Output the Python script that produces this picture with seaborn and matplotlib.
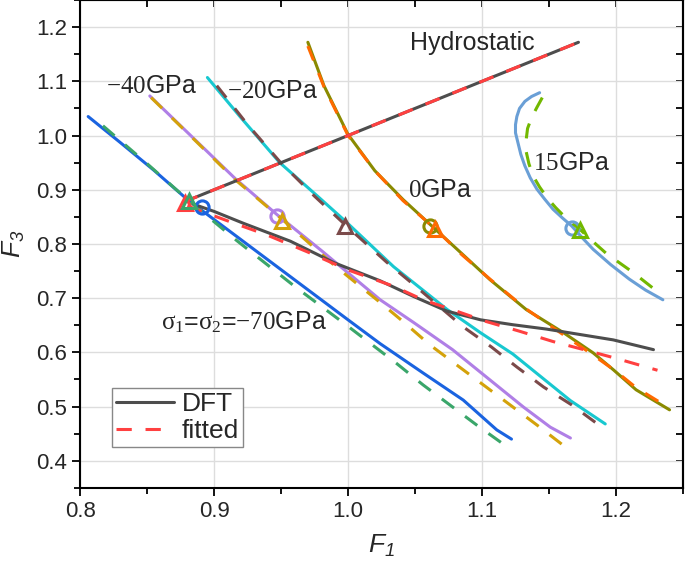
import matplotlib
matplotlib.use("Agg")
import matplotlib.pyplot as plt
from matplotlib.ticker import MultipleLocator
import seaborn as sns

# ---- values ----
# sigma1 = sigma2 = -70 GPa
f1_m70_dft = [0.806, 0.83, 0.855, 0.88, 0.92, 0.96, 1.0, 1.024, 1.056, 1.086, 1.111, 1.122]
f3_m70_dft = [1.035, 0.987, 0.936, 0.882, 0.808, 0.734, 0.660, 0.616, 0.562, 0.512, 0.457, 0.440]
f1_m70_fit = [0.817, 0.85, 0.881, 0.917, 0.96, 1.0, 1.036, 1.056, 1.076, 1.096, 1.122]
f3_m70_fit = [1.018, 0.948, 0.880, 0.806, 0.722, 0.648, 0.580, 0.540, 0.503, 0.466, 0.420]

# -40 GPa
f1_m40_dft = [0.852, 0.88, 0.916, 0.947, 0.98, 1.024, 1.049, 1.078, 1.106, 1.131, 1.151, 1.166]
f3_m40_dft = [1.073, 1.006, 0.920, 0.854, 0.788, 0.697, 0.655, 0.605, 0.549, 0.499, 0.462, 0.442]
f1_m40_fit = [0.853, 0.88, 0.916, 0.951, 0.99, 1.024, 1.041, 1.061, 1.081, 1.101, 1.121, 1.141, 1.163]
f3_m40_fit = [1.070, 1.005, 0.918, 0.845, 0.760, 0.692, 0.657, 0.614, 0.577, 0.540, 0.503, 0.466, 0.424]

# -20 GPa
f1_m20_dft = [0.895, 0.92, 0.949, 0.975, 0.998, 1.034, 1.074, 1.099, 1.123, 1.143, 1.166, 1.192]
f3_m20_dft = [1.107, 1.033, 0.950, 0.893, 0.842, 0.758, 0.679, 0.636, 0.597, 0.557, 0.511, 0.468]
f1_m20_fit = [0.902, 0.925, 0.949, 0.975, 0.998, 1.029, 1.049, 1.086, 1.107, 1.126, 1.146, 1.167, 1.19]
f3_m20_fit = [1.092, 1.020, 0.952, 0.888, 0.835, 0.766, 0.725, 0.647, 0.610, 0.573, 0.536, 0.503, 0.461]

# 0 GPa
f1_0_dft = [0.970, 0.982, 1.0, 1.02, 1.041, 1.063, 1.085, 1.106, 1.133, 1.161, 1.183, 1.198, 1.215, 1.240]
f3_0_dft = [1.172, 1.092, 1.002, 0.935, 0.882, 0.832, 0.782, 0.734, 0.679, 0.636, 0.599, 0.568, 0.531, 0.494]
f1_0_fit = [0.970, 0.982, 1.0, 1.02, 1.041, 1.065, 1.085, 1.106, 1.133, 1.161, 1.183, 1.2, 1.215, 1.238]
f3_0_fit = [1.165, 1.090, 1.000, 0.935, 0.880, 0.828, 0.780, 0.735, 0.680, 0.632, 0.595, 0.565, 0.535, 0.500]

# 15 GPa
f1_15_dft = [1.143, 1.137, 1.132, 1.128, 1.126, 1.125, 1.125, 1.127, 1.129, 1.132, 1.136, 1.141, 1.147,
             1.153, 1.160, 1.167, 1.175, 1.183, 1.196, 1.210, 1.222, 1.235]
f3_15_dft = [1.079, 1.072, 1.063, 1.050, 1.035, 1.020, 1.005, 0.985, 0.965, 0.944, 0.922, 0.901, 0.882,
             0.864, 0.848, 0.833, 0.811, 0.790, 0.762, 0.735, 0.715, 0.697]
f1_15_fit = [1.145, 1.141, 1.137, 1.134, 1.133, 1.133, 1.135, 1.138, 1.143, 1.149, 1.155, 1.163, 1.173,
             1.183, 1.193, 1.213, 1.233]
f3_15_fit = [1.070, 1.052, 1.033, 1.013, 0.993, 0.970, 0.948, 0.926, 0.905, 0.884, 0.867, 0.847, 0.827,
             0.804, 0.782, 0.747, 0.708]

# hydrostatic
f1_hyd = [0.877, 1.0, 1.172]
f3_hyd = [0.877, 1.0, 1.172]

# path starting at the hydrostatic point
f1_path_dft = [0.885, 0.9, 0.922, 0.957, 0.99, 1.024, 1.049, 1.074, 1.099, 1.123, 1.148, 1.173, 1.198, 1.228]
f3_path_dft = [0.873, 0.860, 0.838, 0.805, 0.765, 0.732, 0.703, 0.676, 0.660, 0.651, 0.643, 0.633, 0.623, 0.605]
f1_path_fit = [0.88, 0.914, 0.939, 0.97, 1.0, 1.034, 1.056, 1.081, 1.103, 1.128, 1.153, 1.176, 1.2, 1.231]
f3_path_fit = [0.870, 0.839, 0.817, 0.785, 0.752, 0.722, 0.697, 0.676, 0.657, 0.639, 0.620, 0.605, 0.589, 0.567]

# open markers (x, y)
circle_pts = [(0.891, 0.869), (0.947, 0.852), (1.061, 0.834), (1.167, 0.830)]
circle_cols = ["#1a63e0", "#b07fe6", "#8a8a00", "#6a9fd6"]
tri_pts = [(0.878, 0.876), (0.881, 0.880), (0.951, 0.843), (0.998, 0.833), (1.065, 0.828), (1.173, 0.825)]
tri_cols = ["#ff4040", "#3aa66a", "#d4a20a", "#7b4a4a", "#ff6a00", "#72b800"]

sns.set_style("white")
plt.rcParams['font.family'] = ['Liberation Sans', 'DejaVu Sans']
plt.rcParams['mathtext.fontset'] = 'custom'
plt.rcParams['mathtext.rm'] = 'Liberation Serif'
plt.rcParams['mathtext.it'] = 'Liberation Serif'
plt.rcParams['mathtext.sf'] = 'Liberation Sans:italic'

fig = plt.figure(figsize=(6.85, 5.66), dpi=100)
ax = fig.add_axes([0.117, 0.138, 0.88, 0.862])

lw = 2.2
dash = (0, (5, 4.5))

pairs = [
    (f1_m70_dft, f3_m70_dft, "#1a63e0", f1_m70_fit, f3_m70_fit, "#3aa66a"),
    (f1_m40_dft, f3_m40_dft, "#b07fe6", f1_m40_fit, f3_m40_fit, "#d4a20a"),
    (f1_m20_dft, f3_m20_dft, "#18c8d0", f1_m20_fit, f3_m20_fit, "#7b4a4a"),
    (f1_0_dft, f3_0_dft, "#8a8a00", f1_0_fit, f3_0_fit, "#ff6a00"),
    (f1_15_dft, f3_15_dft, "#6a9fd6", f1_15_fit, f3_15_fit, "#72b800"),
    (f1_path_dft, f3_path_dft, "#4d4d4d", f1_path_fit, f3_path_fit, "#ff4040"),
]
for xd, yd, cd, xf, yf, cf in pairs:
    sns.lineplot(x=xd, y=yd, sort=False, estimator=None, color=cd, lw=lw, ax=ax)
    sns.lineplot(x=xf, y=yf, sort=False, estimator=None, color=cf, lw=lw, linestyle=dash, ax=ax)

sns.lineplot(x=f1_hyd, y=f3_hyd, sort=False, estimator=None, color="#4d4d4d", lw=lw, ax=ax, label="DFT")
sns.lineplot(x=f1_hyd, y=f3_hyd, sort=False, estimator=None, color="#ff4040", lw=lw, linestyle=dash,
             ax=ax, label="fitted")

for (px, py), c in zip(circle_pts, circle_cols):
    ax.plot([px], [py], marker='o', ms=9.5, mfc='none', mec=c, mew=2.2, ls='none')
for (px, py), c in zip(tri_pts, tri_cols):
    ax.plot([px], [py], marker='^', ms=10.5, mfc='none', mec=c, mew=2.2, ls='none')

fs = 18
ax.text(1.046, 1.170, "Hydrostatic", fontsize=fs, ha='left', va='center')
ax.text(0.819, 1.091, r"$-40$GPa", fontsize=fs, ha='left', va='center')
ax.text(0.910, 1.082, r"$-20$GPa", fontsize=fs, ha='left', va='center')
ax.text(1.045, 0.900, r"$0$GPa", fontsize=fs, ha='left', va='center')
ax.text(1.138, 0.949, r"$15$GPa", fontsize=fs, ha='left', va='center')
ax.text(0.860, 0.655, r"$\sigma_1$=$\sigma_2$=$-70$GPa", fontsize=fs, ha='left', va='center')

ax.set_xlim(0.8, 1.25)
ax.set_ylim(0.35, 1.25)
ax.set_xticks([0.8, 0.9, 1.0, 1.1, 1.2])
ax.set_yticks([0.4, 0.5, 0.6, 0.7, 0.8, 0.9, 1.0, 1.1, 1.2])
ax.xaxis.set_minor_locator(MultipleLocator(0.05))
ax.yaxis.set_minor_locator(MultipleLocator(0.05))
ax.tick_params(which='major', direction='out', length=6, width=1.3, labelsize=16,
               bottom=True, left=True, top=False, right=False, color='black')
ax.tick_params(which='minor', direction='out', length=4, width=1.3,
               bottom=True, left=True, top=False, right=False, color='black')
ax.grid(True, which='major', color='#dddddd', lw=1)
ax.set_axisbelow(True)
for s in ax.spines.values():
    s.set_linewidth(1.5)
    s.set_color('black')

secx = ax.secondary_xaxis('top')
secx.set_xticks([0.8, 0.9, 1.0, 1.1, 1.2])
secx.xaxis.set_minor_locator(MultipleLocator(0.05))
secx.tick_params(which='both', direction='in', length=5, width=1.3, top=True, bottom=False,
                 labeltop=False, color='black')
secx.spines['top'].set_linewidth(1.5)
secy = ax.secondary_yaxis('right')
secy.set_yticks([0.4, 0.5, 0.6, 0.7, 0.8, 0.9, 1.0, 1.1, 1.2])
secy.yaxis.set_minor_locator(MultipleLocator(0.05))
secy.tick_params(which='both', direction='in', length=5, width=1.3, right=True, left=False,
                 labelright=False, color='black')
secy.spines['right'].set_linewidth(1.5)

ax.set_xlabel(r"$\mathsf{F_1}$", fontsize=19, labelpad=8)
ax.set_ylabel(r"$\mathsf{F_3}$", fontsize=19, labelpad=6)

ax.legend(loc='lower left', bbox_to_anchor=(0.053, 0.084), borderaxespad=0, fontsize=19,
          handlelength=2.2, handletextpad=0.3, borderpad=0.15, labelspacing=0.1,
          frameon=True, fancybox=False, edgecolor='#888888', framealpha=1)

fig.savefig("out.png", dpi=100)
